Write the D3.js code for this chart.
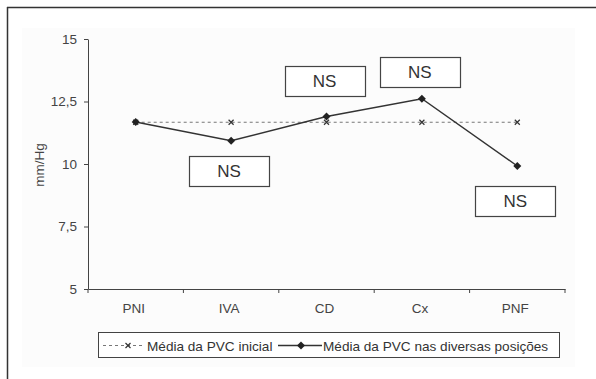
<!DOCTYPE html>
<html><head><meta charset="utf-8">
<script src="https://cdn.jsdelivr.net/npm/d3@7"></script>
<style>body{margin:0;background:#fff}svg{display:block;font-family:Arial,"Liberation Sans",sans-serif}</style>
</head><body><svg id="c" width="596" height="379"></svg>
<script>
const categories = ["PNI","IVA","CD","Cx","PNF"];
const initialValues = [11.67,11.67,11.67,11.67,11.67];
const positionValues = [11.68,10.93,11.9,12.61,9.92];
const yTicks = [5,7.5,10,12.5,15];
const yTickLabels = ["5","7,5","10","12,5","15"];
// NS annotation boxes: category and the value level at which the box is centred
const nsCats = ["IVA","CD","Cx","PNF"];
const nsLevels = [9.74,13.32,13.68,8.52];
const nsTexts = ["NS","NS","NS","NS"];
const seriesNames = ["Média da PVC inicial","Média da PVC nas diversas posições"];

const svg = d3.select("#c");
svg.append("rect").attr("x",22).attr("y",28).attr("width",553).attr("height",339).attr("fill","#fcfcfc");
svg.append("line").attr("x1",7).attr("x2",596).attr("y1",7.5).attr("y2",7.5).attr("stroke","#333").attr("stroke-width",1.5);
svg.append("line").attr("x1",7.5).attr("x2",7.5).attr("y1",7).attr("y2",379).attr("stroke","#333").attr("stroke-width",1.5);

const x = d3.scaleBand().domain(categories).range([88,565]);
const y = d3.scaleLinear().domain([5,15]).range([289,39]);
const cx = d => x(d)+x.bandwidth()/2;

const yAxis = svg.append("g").attr("transform","translate(88,0)")
  .call(d3.axisLeft(y).tickValues(yTicks).tickFormat((d,i)=>yTickLabels[i]).tickSize(4).tickSizeOuter(0));
yAxis.select(".domain").attr("stroke","#444");
yAxis.selectAll(".tick line").attr("stroke","#444");
yAxis.selectAll("text").attr("font-size",13.5).attr("fill","#444").attr("dx",-4);

const xAxis = svg.append("g").attr("transform","translate(0,289)")
  .call(d3.axisBottom(x).tickSize(0).tickSizeOuter(0));
xAxis.select(".domain").attr("stroke","#444");
xAxis.selectAll("text").attr("font-size",13.5).attr("fill","#444").attr("y",0).attr("dy",0).attr("transform","translate(-2,24)");
const bounds = categories.map(c=>x(c)).concat([x.range()[1]]);
xAxis.selectAll(".bt").data(bounds).enter().append("line")
  .attr("x1",d=>d).attr("x2",d=>d).attr("y1",0).attr("y2",4).attr("stroke","#444");

svg.append("text").attr("transform","translate(44,165) rotate(-90)").attr("text-anchor","middle")
  .attr("font-size",13.5).attr("fill","#444").text("mm/Hg");

const line = d3.line().x((d,i)=>cx(categories[i])).y(d=>y(d));
svg.append("path").datum(initialValues).attr("d",line).attr("fill","none")
  .attr("stroke","#777").attr("stroke-width",1).attr("stroke-dasharray","3,3");
const xm = (g,px,py)=>{g.append("path").attr("d",`M${px-2.5},${py-2.5}L${px+2.5},${py+2.5}M${px-2.5},${py+2.5}L${px+2.5},${py-2.5}`).attr("stroke","#333").attr("stroke-width",1.2);};
const g1 = svg.append("g");
initialValues.forEach((v,i)=>xm(g1,cx(categories[i]),y(v)));

svg.append("path").datum(positionValues).attr("d",line).attr("fill","none")
  .attr("stroke","#333").attr("stroke-width",1.4);
const diamond = "M0,-4L4,0L0,4L-4,0Z";
svg.selectAll(".pt").data(positionValues).enter().append("path")
  .attr("d",diamond).attr("transform",(d,i)=>`translate(${cx(categories[i])},${y(d)})`).attr("fill","#222");

const bw=80, bh=30;
nsCats.forEach((c,i)=>{
  const px = cx(c) - 2, py = y(nsLevels[i]);
  svg.append("rect").attr("x",Math.round(px-bw/2)+0.5).attr("y",Math.round(py-bh/2)+0.5).attr("width",bw).attr("height",bh)
    .attr("fill","#fff").attr("stroke","#444").attr("stroke-width",1.2);
  svg.append("text").attr("x",px).attr("y",py+6).attr("text-anchor","middle")
    .attr("font-size",17).attr("fill","#333").text(nsTexts[i]);
});

const lg = svg.append("g");
lg.append("rect").attr("x",98.5).attr("y",332.5).attr("width",461).attr("height",25).attr("fill","#fff").attr("stroke","#444");
lg.append("line").attr("x1",103).attr("x2",145).attr("y1",345.5).attr("y2",345.5).attr("stroke","#777").attr("stroke-dasharray","3,3");
xm(lg,128,345.5);
lg.append("text").attr("x",147).attr("y",350.5).attr("font-size",13.6).attr("fill","#333").text(seriesNames[0]);
lg.append("line").attr("x1",278).attr("x2",322).attr("y1",345.5).attr("y2",345.5).attr("stroke","#333").attr("stroke-width",1.3);
lg.append("path").attr("d",diamond).attr("transform","translate(301,345.5)").attr("fill","#222");
lg.append("text").attr("x",323).attr("y",350.5).attr("font-size",13.6).attr("fill","#333").text(seriesNames[1]);
</script></body></html>
